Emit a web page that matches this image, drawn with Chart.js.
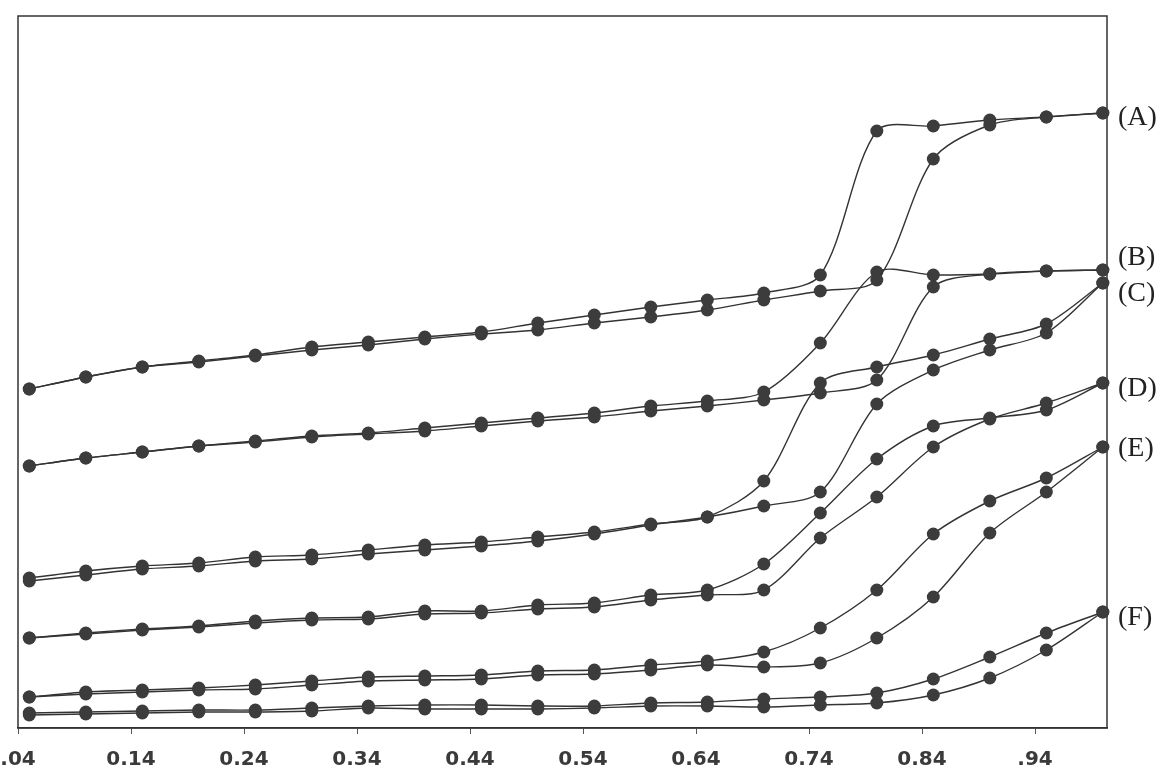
<!DOCTYPE html>
<html>
<head>
<meta charset="utf-8">
<script src="https://cdn.jsdelivr.net/npm/chart.js@4.4.1/dist/chart.umd.min.js"></script>
<style>
    html, body { margin: 0; padding: 0; background: #fff; }
    canvas { display: block; }
</style>
</head>
<body>
<canvas id="myChart" width="1170" height="782"></canvas>
<script>
// Relative pressure (x) for every point
const pressure = [0.05, 0.10, 0.15, 0.20, 0.25, 0.30, 0.35, 0.40, 0.45, 0.50,
                  0.55, 0.60, 0.65, 0.70, 0.75, 0.80, 0.85, 0.90, 0.95, 1.00];

// Amount adsorbed (arbitrary units), adsorption / desorption branch
const aAds = [342, 354, 364, 369, 375, 381, 386, 392, 397, 401, 408, 414, 421, 431, 440, 451, 572, 606, 614, 618];
const aDes = [342, 354, 364, 370, 376, 384, 389, 394, 399, 408, 416, 424, 431, 438, 456, 600, 605, 611, 614, 618];
const bAds = [265, 273, 279, 285, 289, 294, 297, 300, 305, 310, 314, 320, 325, 331, 338, 351, 444, 457, 460, 461];
const bDes = [265, 273, 279, 285, 290, 295, 298, 303, 308, 313, 318, 325, 330, 339, 388, 459, 456, 457, 460, 461];
const cAds = [150, 156, 162, 165, 170, 172, 177, 181, 185, 190, 197, 206, 214, 225, 239, 327, 361, 381, 398, 448];
const cDes = [153, 160, 165, 168, 174, 176, 181, 186, 189, 194, 199, 207, 214, 250, 348, 364, 376, 392, 407, 448];
const dAds = [93, 97, 101, 104, 108, 111, 112, 117, 118, 122, 124, 131, 136, 141, 193, 234, 284, 312, 328, 348];
const dDes = [93, 98, 102, 105, 110, 113, 114, 120, 120, 126, 128, 136, 141, 167, 218, 272, 305, 313, 321, 348];
const eAds = [34, 37, 39, 41, 42, 46, 50, 51, 52, 56, 57, 61, 66, 64, 68, 93, 134, 198, 239, 284];
const eDes = [34, 39, 41, 43, 46, 50, 54, 55, 56, 60, 61, 66, 70, 79, 103, 141, 197, 230, 253, 284];
const fAds = [16, 17, 18, 19, 19, 20, 23, 22, 22, 22, 23, 25, 25, 24, 26, 28, 36, 53, 81, 119];
const fDes = [18, 19, 20, 21, 21, 23, 25, 26, 26, 25, 25, 28, 29, 32, 34, 38, 52, 74, 98, 119];

const seriesNames = ['(A)', '(B)', '(C)', '(D)', '(E)', '(F)'];
const seriesPairs = [[aAds, aDes], [bAds, bDes], [cAds, cDes], [dAds, dDes], [eAds, eDes], [fAds, fDes]];

// x axis ticks as printed on the figure
const tickValues = [0.04, 0.14, 0.24, 0.34, 0.44, 0.54, 0.64, 0.74, 0.84, 0.94];
const tickLabels = ['.04', '0.14', '0.24', '0.34', '0.44', '0.54', '0.64', '0.74', '0.84', '.94'];

const INK = '#333333';
const DOT = '#3c3c3c';

function branch(values, label) {
    return {
        label: label,
        data: values.map((v, i) => ({ x: pressure[i], y: v })),
        borderColor: INK,
        borderWidth: 1.4,
        backgroundColor: DOT,
        pointBackgroundColor: DOT,
        pointBorderColor: DOT,
        pointRadius: 6.5,
        pointBorderWidth: 0,
        tension: 0.3,
        clip: false
    };
}

const datasets = [];
seriesPairs.forEach((pair, k) => {
    datasets.push(branch(pair[0], seriesNames[k] + ' ads'));
    datasets.push(branch(pair[1], seriesNames[k] + ' des'));
});

// box around the plot
const frame = {
    id: 'frame',
    beforeDatasetsDraw(chart) {
        const { ctx, chartArea: a } = chart;
        ctx.save();
        ctx.strokeStyle = INK;
        ctx.lineWidth = 1.5;
        ctx.strokeRect(a.left, a.top, a.right - a.left, a.bottom - a.top);
        ctx.restore();
    }
};

// (A)..(F) names to the right of the loops
const endLabels = {
    id: 'endLabels',
    afterDatasetsDraw(chart, args, opts) {
        const { ctx, chartArea: a, scales } = chart;
        ctx.save();
        ctx.fillStyle = '#222';
        ctx.font = '28px "Liberation Serif", "Times New Roman", serif';
        ctx.textAlign = 'left';
        ctx.textBaseline = 'middle';
        seriesPairs.forEach((pair, k) => {
            const last = pair[0][pair[0].length - 1];
            const y = scales.y.getPixelForValue(last) + opts.offsets[k];
            ctx.fillText(seriesNames[k], a.right + 11, y);
        });
        ctx.restore();
    }
};

const ctx = document.getElementById('myChart').getContext('2d');
new Chart(ctx, {
    type: 'line',
    data: { datasets: datasets },
    options: {
        responsive: false,
        animation: false,
        devicePixelRatio: 1,
        layout: { padding: { left: 18, right: 63, top: 16, bottom: 10 } },
        plugins: {
            legend: { display: false },
            tooltip: { enabled: false },
            endLabels: { offsets: [5, -12, 11, 6, 2, 6] }
        },
        scales: {
            x: {
                type: 'linear',
                min: 0.04,
                max: 1.0037,
                afterBuildTicks: axis => {
                    axis.ticks = tickValues.map(v => ({ value: v }));
                },
                afterFit: scale => {
                    // keep the plot box where the scan has it
                    scale.paddingLeft = 0;
                    scale.paddingRight = 0;
                    scale.height = 44;
                },
                ticks: {
                    autoSkip: false,
                    maxRotation: 0,
                    padding: 14,
                    color: '#3a3a3a',
                    font: { family: '"DejaVu Sans", Verdana, sans-serif', size: 20, weight: 'bold' },
                    callback: (val, i) => tickLabels[i]
                },
                grid: {
                    drawOnChartArea: false,
                    drawTicks: true,
                    tickLength: 6,
                    color: '#555'
                },
                border: { display: true, color: INK, width: 1.5 }
            },
            y: {
                type: 'linear',
                display: false,
                min: 3,
                max: 715
            }
        }
    },
    plugins: [frame, endLabels]
});
</script>
</body>
</html>
